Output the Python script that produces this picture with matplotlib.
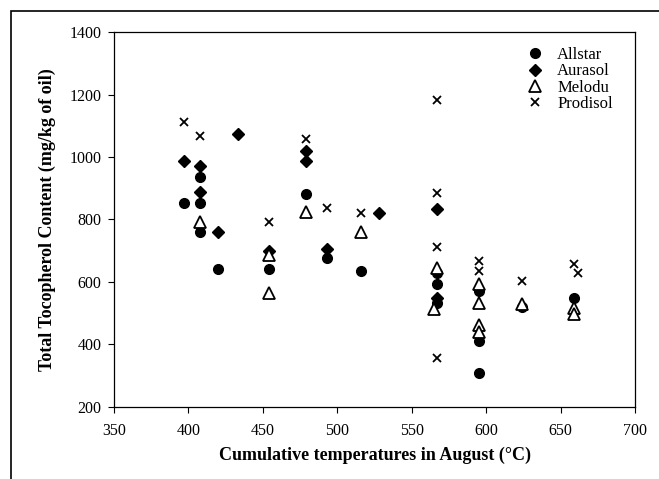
import numpy as np
import matplotlib.pyplot as plt
from matplotlib.patches import Rectangle

# values (cumulative temperature, tocopherol content)
allstar_x = [397, 408, 408, 408, 420, 454, 479, 493, 516, 567, 567, 567, 595, 595, 595, 624, 659]
allstar_y = [853, 936, 853, 759, 641, 641, 880, 677, 634, 629, 592, 533, 571, 411, 307, 518, 547]

aurasol_x = [397, 408, 408, 420, 433, 454, 479, 479, 493, 528, 567, 567]
aurasol_y = [988, 971, 888, 759, 1073, 699, 1019, 987, 705, 822, 834, 549]

melodu_x = [408, 454, 454, 479, 516, 567, 565, 595, 595, 595, 595, 624, 659, 659]
melodu_y = [792, 686, 565, 824, 759, 645, 513, 592, 533, 461, 438, 528, 515, 496]

prodisol_x = [397, 408, 454, 479, 493, 516, 567, 567, 567, 567, 595, 595, 624, 659, 662]
prodisol_y = [1111, 1066, 792, 1056, 835, 822, 1184, 883, 712, 357, 666, 634, 602, 656, 627]

plt.rcParams['font.family'] = ['Liberation Serif', 'DejaVu Serif']

fig = plt.figure(figsize=(6.59, 4.79), dpi=100)
ax = fig.add_axes([0.173, 0.151, 0.7906, 0.782])

ax.plot(allstar_x, allstar_y, 'o', color='black', markersize=7, linestyle='none', label='Allstar')
ax.plot(aurasol_x, aurasol_y, 'D', color='black', markersize=6, linestyle='none', label='Aurasol')
ax.plot(melodu_x, melodu_y, '^', markerfacecolor='white', markeredgecolor='black',
        markeredgewidth=1.3, markersize=8, linestyle='none', label='Melodu')
ax.plot(prodisol_x, prodisol_y, 'x', color='black', markersize=5.5, markeredgewidth=1.3,
        linestyle='none', label='Prodisol')

ax.set_xlim(350, 700)
ax.set_ylim(200, 1400)
ax.set_xticks(np.arange(350, 701, 50))
ax.set_yticks(np.arange(200, 1401, 200))
ax.tick_params(direction='out', length=4, width=0.8, labelsize=11.5)
ax.tick_params(axis='x', pad=8)
ax.tick_params(axis='y', pad=5)
for s in ax.spines.values():
    s.set_linewidth(0.9)

ax.set_xlabel('Cumulative temperatures in August (°C)', fontsize=13, fontweight='bold', labelpad=5)
ax.set_ylabel('Total Tocopherol Content (mg/kg of oil)', fontsize=13, fontweight='bold', labelpad=10)

ax.legend(loc='upper right', frameon=False, fontsize=12, handletextpad=0.6, handlelength=1.5,
          labelspacing=0.02, borderaxespad=0.5, bbox_to_anchor=(0.986, 1.0))

# outer frame around the figure
fig.patches.append(Rectangle((11 / 659, -0.1), 1.2, 1.1 - 11 / 479, transform=fig.transFigure,
                             fill=False, edgecolor='black', linewidth=1.2, clip_on=False))

fig.savefig('out.png', dpi=100)
